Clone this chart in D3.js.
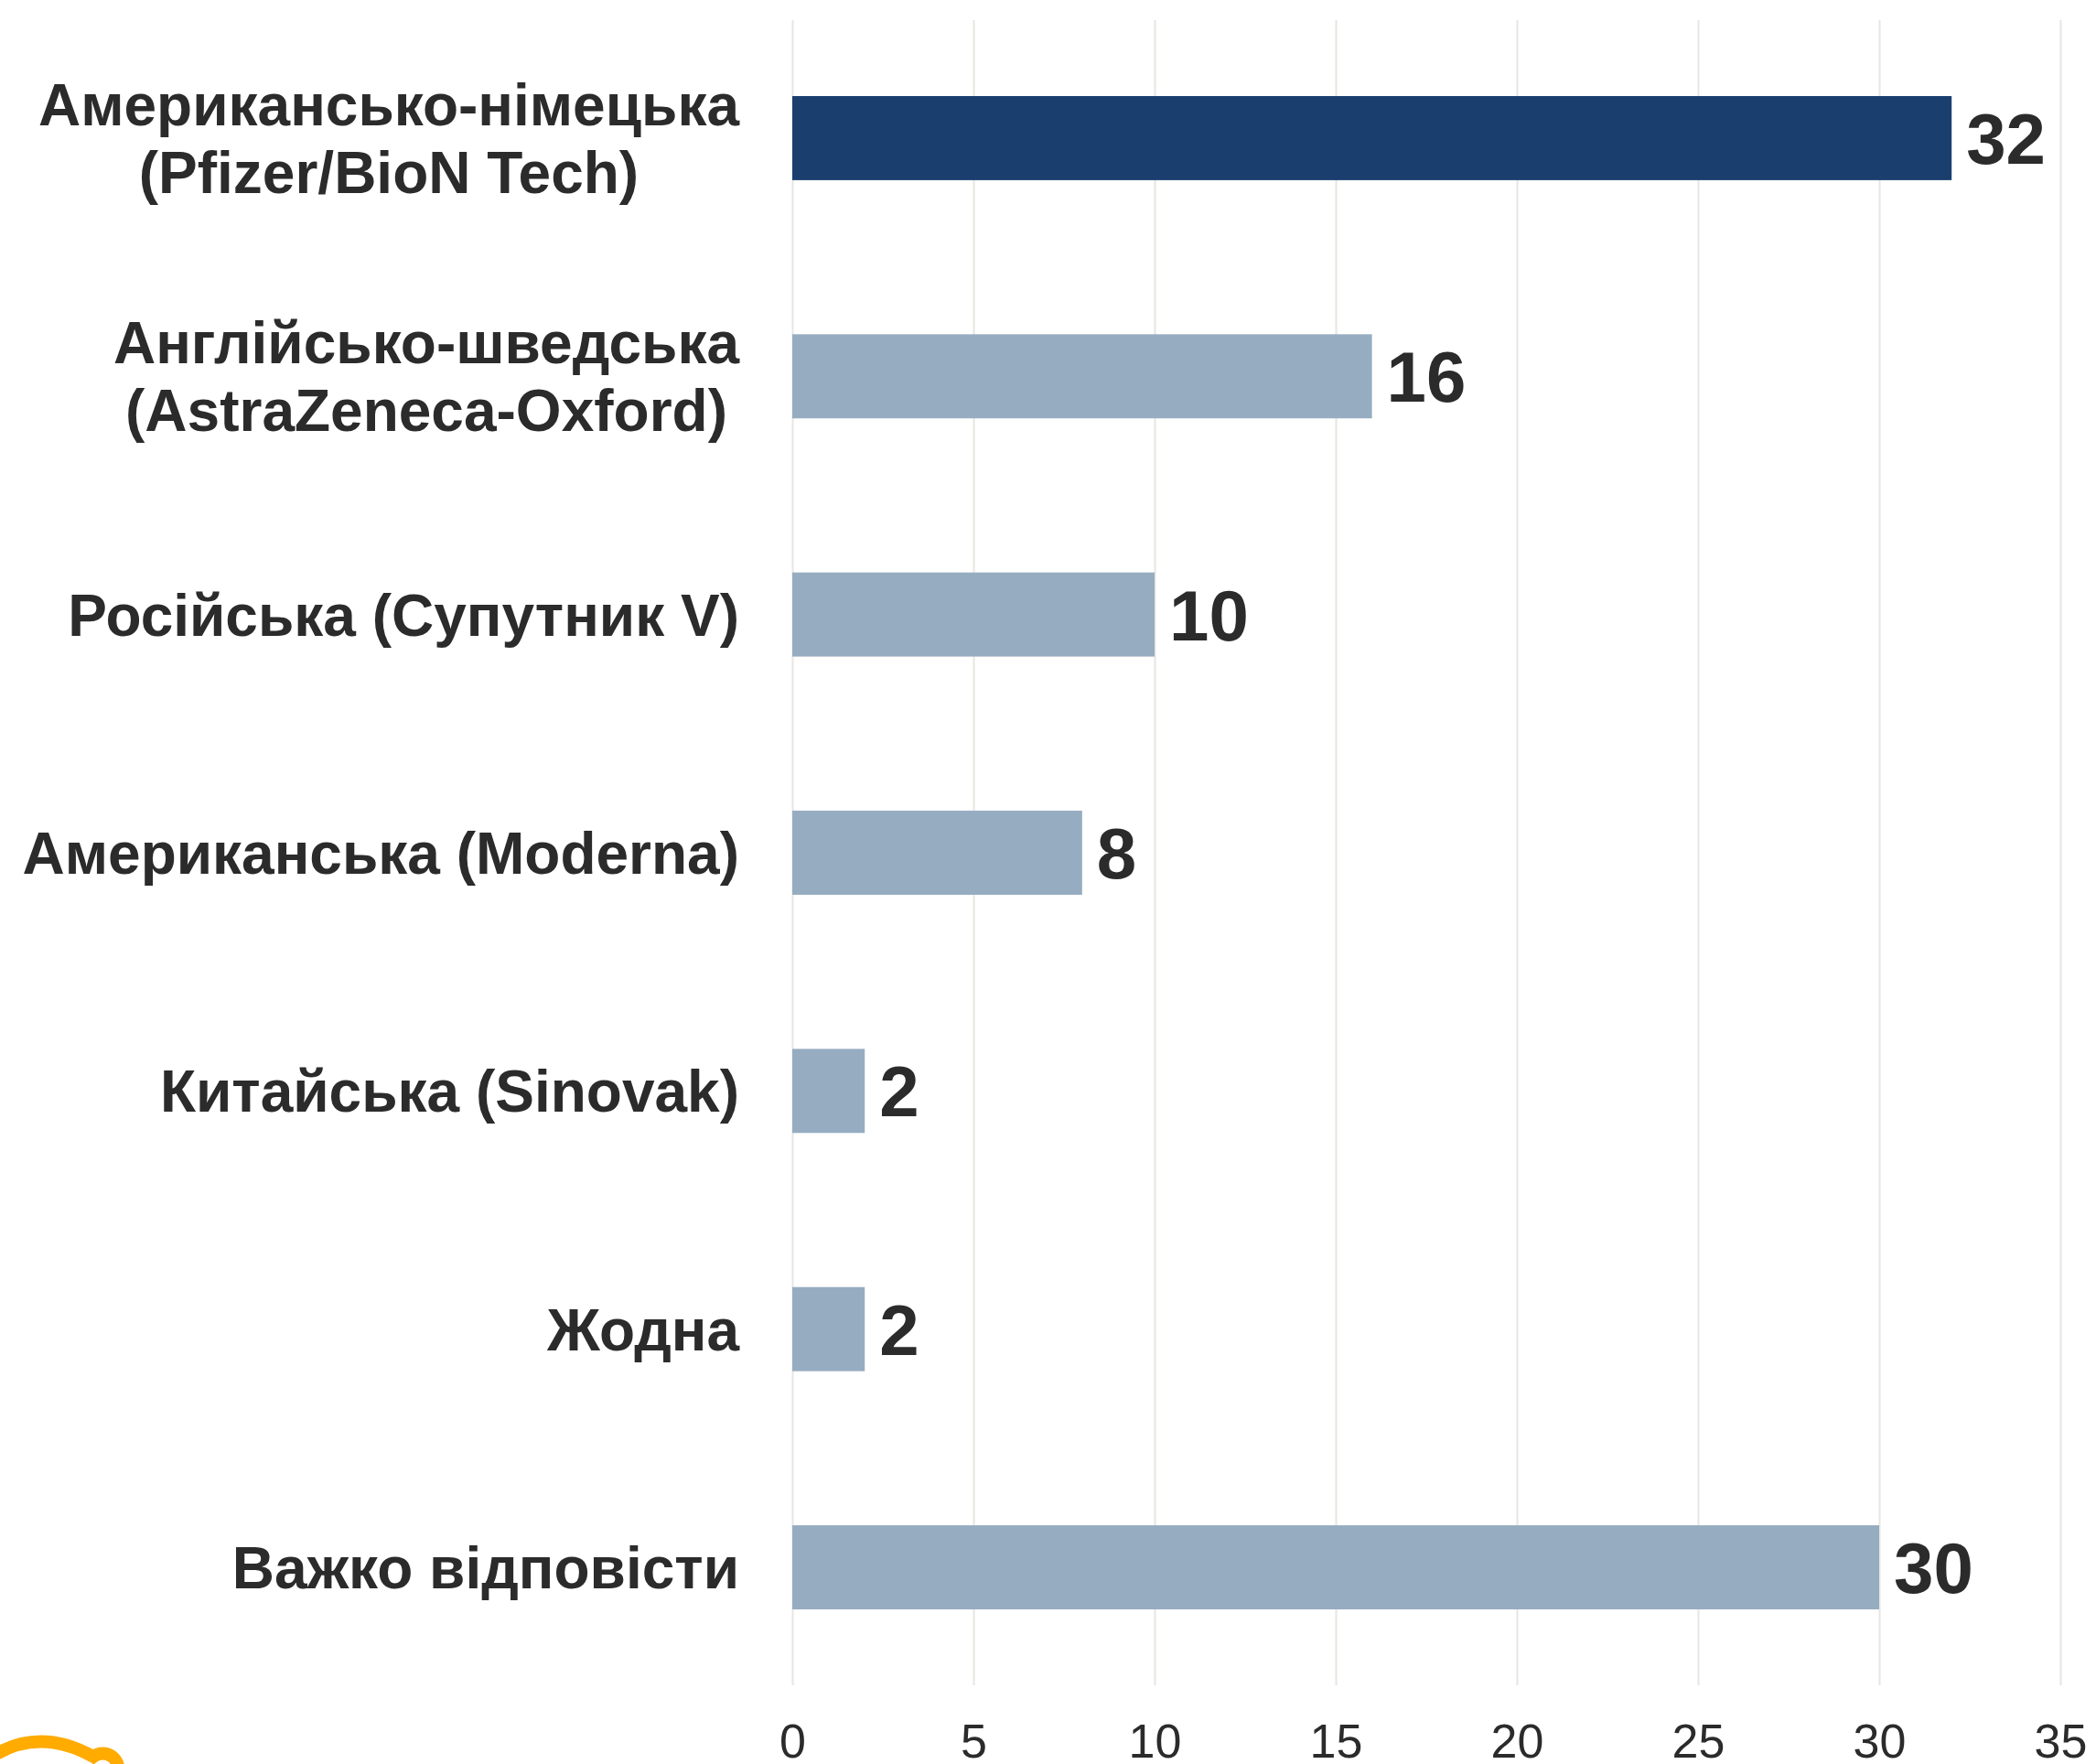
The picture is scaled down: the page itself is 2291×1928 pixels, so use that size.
<!DOCTYPE html>
<html lang="uk">
<head>
<meta charset="UTF-8" />
<title>Vaccines</title>
<script src="https://d3js.org/d3.v7.min.js"></script>
<style>
  body { margin: 0; background: #fff; }
  text { font-family: "Liberation Sans", Arial, sans-serif; fill: #2b2b2b; }
</style>
</head>
<body>
<script>
// data
var categories = [
  "Американсько-німецька\n(Pfizer/BioN Tech)",
  "Англійсько-шведська\n(AstraZeneca-Oxford)",
  "Російська (Супутник V)",
  "Американська (Moderna)",
  "Китайська (Sinovak)",
  "Жодна",
  "Важко відповісти"
];
var values = [32, 16, 10, 8, 2, 2, 30];
var xTicks = [0, 5, 10, 15, 20, 25, 30, 35];
var highlighted = ["Американсько-німецька\n(Pfizer/BioN Tech)"];

var W = 2291, H = 1928;
var gridTop = 22, gridBottom = 1842;

var svg = d3.select("body").append("svg")
  .attr("width", W)
  .attr("height", H);

var x = d3.scaleLinear().domain([0, 35]).range([866, 2252]);
var y = d3.scaleBand().domain(categories).range([105, 1759])
  .paddingInner(0.647).paddingOuter(0);

// grid
var grid = svg.append("g")
  .attr("transform", "translate(0," + gridBottom + ")")
  .call(d3.axisBottom(x).tickValues(xTicks).tickSize(-(gridBottom - gridTop)).tickFormat(""));
grid.select(".domain").remove();
grid.selectAll("line").attr("stroke", "#e8e5e2").attr("stroke-width", 2);

// tick labels
var axis = svg.append("g")
  .attr("transform", "translate(0," + gridBottom + ")")
  .call(d3.axisBottom(x).tickValues(xTicks).tickSize(0).tickPadding(42));
axis.select(".domain").remove();
axis.selectAll("text")
  .attr("font-size", 52)
  .attr("font-family", "'Liberation Sans', Arial, sans-serif")
  .attr("fill", "#2b2b2b");

// bars
svg.selectAll("rect.bar")
  .data(categories)
  .enter()
  .append("rect")
  .attr("class", "bar")
  .attr("x", x(0))
  .attr("y", d => y(d))
  .attr("width", (d, i) => x(values[i]) - x(0))
  .attr("height", y.bandwidth())
  .attr("fill", d => highlighted.includes(d) ? "#1a3f6f" : "#96acc1");

// value labels
svg.selectAll("text.val")
  .data(categories)
  .enter()
  .append("text")
  .attr("class", "val")
  .attr("x", (d, i) => x(values[i]) + 16)
  .attr("y", d => y(d) + y.bandwidth() / 2 + 28)
  .attr("font-size", 78)
  .attr("font-weight", "bold")
  .text((d, i) => values[i]);

// category labels: block right-aligned, lines centred within block
var lineGap = 74, labelRight = 808;
svg.selectAll("text.cat")
  .data(categories)
  .enter()
  .append("text")
  .attr("class", "cat")
  .attr("text-anchor", "middle")
  .attr("font-size", 64)
  .attr("font-weight", "bold")
  .each(function (d) {
    var lines = d.split("\n");
    var cy = y(d) + y.bandwidth() / 2;
    var first = cy - (lines.length - 1) * lineGap / 2 + 23;
    var t = d3.select(this);
    var spans = lines.map(function (l, k) {
      return t.append("tspan").attr("y", first + k * lineGap).text(l);
    });
    var maxW = d3.max(spans, s => s.node().getComputedTextLength());
    spans.forEach(s => s.attr("x", labelRight - maxW / 2));
  });

// logo fragment, bottom left
svg.append("path")
  .attr("d", "M -6 1918 Q 45 1888 102 1920 A 17 17 0 0 1 128 1940")
  .attr("fill", "none")
  .attr("stroke", "#ffab00")
  .attr("stroke-width", 14)
  .attr("stroke-linecap", "round");
</script>
</body>
</html>
